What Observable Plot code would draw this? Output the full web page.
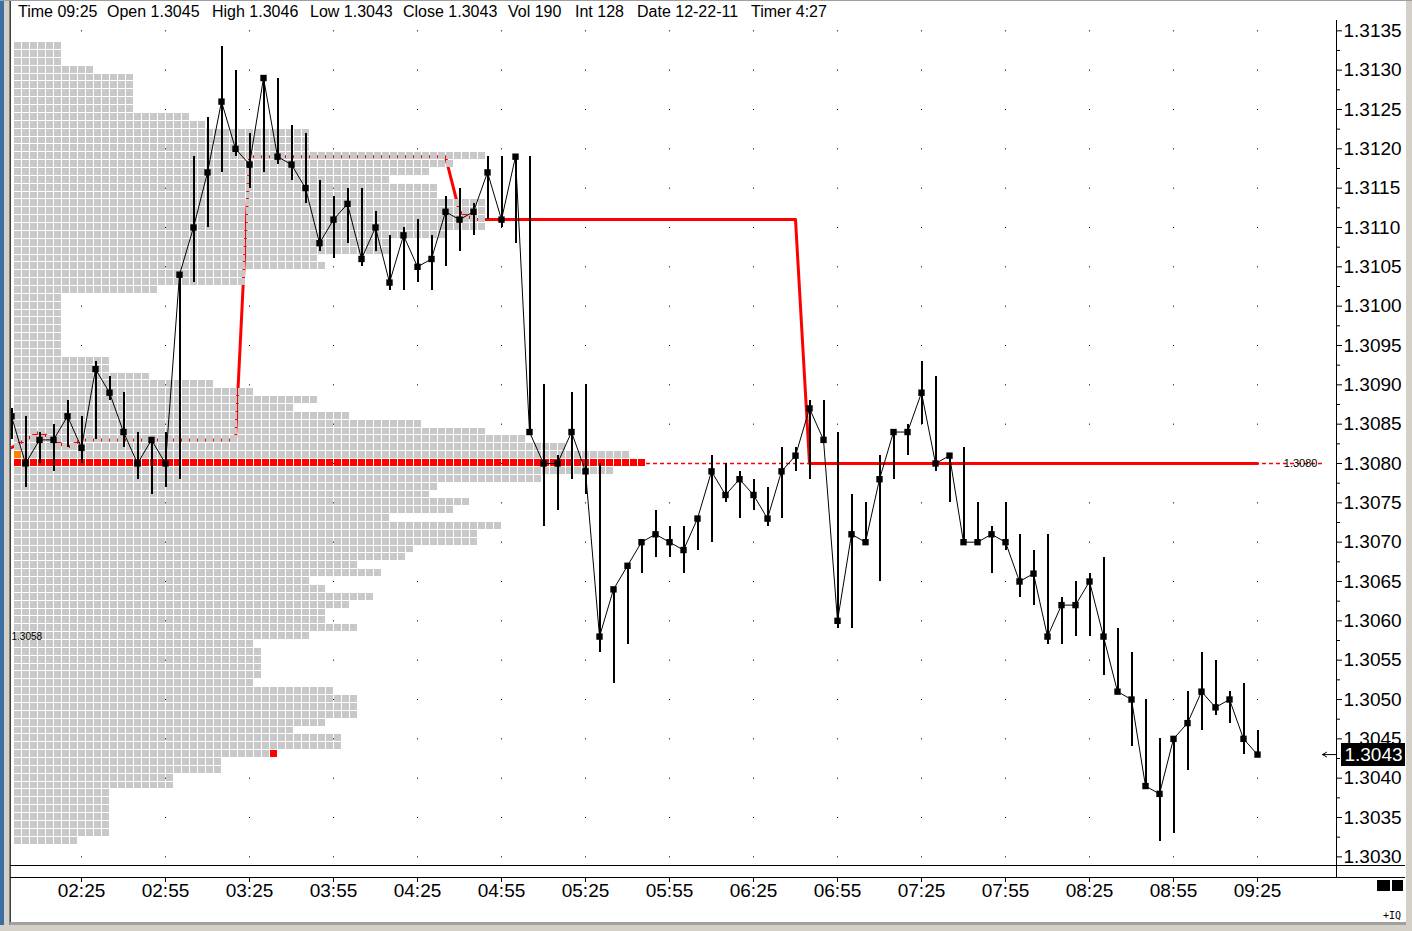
<!DOCTYPE html>
<html><head><meta charset="utf-8">
<script src="https://cdn.jsdelivr.net/npm/d3@7"></script>
<script src="https://cdn.jsdelivr.net/npm/@observablehq/plot@0.6"></script>
<style>
html,body{margin:0;padding:0;background:#fff;overflow:hidden;}
#wrap{position:relative;width:1412px;height:931px;overflow:hidden;font-family:"Liberation Sans",Arial,sans-serif;background:#fff;}
#chart{position:absolute;left:0;top:0;}
.hdr{position:absolute;top:3px;font-size:16px;line-height:18px;color:#000;white-space:nowrap;}
.blk{position:absolute;}
</style></head><body><div id="wrap"><div id="chart"></div></div>
<script>
// ---------------- data ----------------
const header = [["Time","09:25"],["Open","1.3045"],["High","1.3046"],["Low","1.3043"],["Close","1.3043"],["Vol","190"],["Int","128"],["Date","12-22-11"],["Timer","4:27"]];
const firstBarTime = "02:00";
const barMinutes = 5;
const closes = [1.3086,1.3080,1.3083,1.3083,1.3086,1.3082,1.3092,1.3089,1.3084,1.3080,1.3083,1.3080,
 1.3104,1.3110,1.3117,1.3126,1.3120,1.3118,1.3129,1.3119,1.3118,1.3115,1.3108,1.3111,
 1.3113,1.3106,1.3110,1.3103,1.3109,1.3105,1.3106,1.3112,1.3111,1.3112,1.3117,1.3111,
 1.3119,1.3084,1.3080,1.3080,1.3084,1.3079,1.3058,1.3064,1.3067,1.3070,1.3071,1.3070,
 1.3069,1.3073,1.3079,1.3076,1.3078,1.3076,1.3073,1.3079,1.3081,1.3087,1.3083,1.3060,
 1.3071,1.3070,1.3078,1.3084,1.3084,1.3089,1.3080,1.3081,1.3070,1.3070,1.3071,1.3070,
 1.3065,1.3066,1.3058,1.3062,1.3062,1.3065,1.3058,1.3051,1.3050,1.3039,1.3038,1.3045,
 1.3047,1.3051,1.3049,1.3050,1.3045,1.3043];
const highs = [1.3087,1.3086,1.3084,1.3085,1.3088,1.3086,1.3093,1.3091,1.3089,1.3084,1.3083,1.3084,
 1.3104,1.3119,1.3124,1.3133,1.3130,1.3122,1.3129,1.3129,1.3123,1.3122,1.3116,1.3114,
 1.3115,1.3115,1.3112,1.3109,1.3110,1.3111,1.3109,1.3114,1.3115,1.3113,1.3119,1.3119,
 1.3119,1.3119,1.3090,1.3081,1.3089,1.3090,1.3080,1.3064,1.3067,1.3070,1.3074,1.3072,
 1.3072,1.3073,1.3081,1.3080,1.3079,1.3078,1.3077,1.3082,1.3082,1.3088,1.3088,1.3084,
 1.3076,1.3075,1.3081,1.3084,1.3085,1.3093,1.3091,1.3081,1.3082,1.3075,1.3072,1.3075,
 1.3071,1.3069,1.3071,1.3063,1.3065,1.3066,1.3068,1.3059,1.3056,1.3050,1.3045,1.3045,
 1.3051,1.3056,1.3055,1.3051,1.3052,1.3046];
const lows = [1.3083,1.3077,1.3080,1.3079,1.3082,1.3080,1.3083,1.3088,1.3082,1.3078,1.3076,1.3077,
 1.3078,1.3103,1.3110,1.3117,1.3119,1.3115,1.3117,1.3118,1.3116,1.3113,1.3107,1.3106,
 1.3108,1.3105,1.3107,1.3102,1.3102,1.3103,1.3102,1.3105,1.3107,1.3109,1.3111,1.3110,
 1.3108,1.3084,1.3072,1.3074,1.3078,1.3076,1.3056,1.3052,1.3057,1.3066,1.3068,1.3068,
 1.3066,1.3069,1.3070,1.3075,1.3073,1.3074,1.3072,1.3073,1.3079,1.3078,1.3083,1.3059,
 1.3059,1.3070,1.3065,1.3078,1.3081,1.3085,1.3079,1.3075,1.3070,1.3070,1.3066,1.3069,
 1.3063,1.3062,1.3057,1.3057,1.3058,1.3058,1.3053,1.3051,1.3044,1.3039,1.3032,1.3033,
 1.3041,1.3046,1.3048,1.3047,1.3043,1.3043];
// developing point of control per bar
const devPOC = [1.3082,1.3083,1.3084,1.3083,1.3082,1.3083,1.3083,1.3083,1.3083,1.3083,1.3083,1.3083,
 1.3083,1.3083,1.3083,1.3083,1.3083,1.3119,1.3119,1.3119,1.3119,1.3119,1.3119,1.3119,
 1.3119,1.3119,1.3119,1.3119,1.3119,1.3119,1.3119,1.3119,1.3112,1.3111,1.3111,1.3111,
 1.3111,1.3111,1.3111,1.3111,1.3111,1.3111,1.3111,1.3111,1.3111,1.3111,1.3111,1.3111,
 1.3111,1.3111,1.3111,1.3111,1.3111,1.3111,1.3111,1.3111,1.3111,1.3080,1.3080,1.3080,
 1.3080,1.3080,1.3080,1.3080,1.3080,1.3080,1.3080,1.3080,1.3080,1.3080,1.3080,1.3080,
 1.3080,1.3080,1.3080,1.3080,1.3080,1.3080,1.3080,1.3080,1.3080,1.3080,1.3080,1.3080,
 1.3080,1.3080,1.3080,1.3080,1.3080,1.3080];
// composite TPO profile: box counts per 0.0001 price level, from the top level down
const profileTop = 1.3133;
const profileCounts = [6,6,6,10,15,15,15,15,15,22,24,37,37,37,59,55,52,47,53,53,59,59,59,59,54,47,47,38,39,29,29,18,
 6,6,6,6,6,6,6,6,12,12,17,25,30,38,35,42,51,59,64,69,77,79,75,66,53,52,57,55,47,61,58,58,50,49,43,46,37,39,45,
 42,39,39,43,37,30,31,31,31,31,30,40,43,43,43,39,35,41,41,32,26,26,20,20,12,12,12,12,12,12,8];
const pocPrice = 1.3080;
const openCell = {price: 1.3081, box: 0};
const lastCell = {price: 1.3043, box: 32};
const sideLabel = 1.3058;
const priceTicks = [1.3030,1.3035,1.3040,1.3045,1.3050,1.3055,1.3060,1.3065,1.3070,1.3075,1.3080,
 1.3085,1.3090,1.3095,1.3100,1.3105,1.3110,1.3115,1.3120,1.3125,1.3130,1.3135];
const timeTicks = ["02:25","02:55","03:25","03:55","04:25","04:55","05:25","05:55","06:25","06:55","07:25","07:55","08:25","08:55","09:25"];

// ---------------- layout constants ----------------
const W = 1412, H = 931;
const PX_PER_MIN = 2.8;          // 5-minute bar = 14 px
const PX_PER_PRICE = 78670;      // 0.0001 = 7.867 px
const tAt = px => 120 + (px - 11) / PX_PER_MIN;
const pAt = py => 1.3080 + (463 - py) / PX_PER_PRICE;
const XMIN = tAt(10), XMAX = tAt(1336);
const YMIN = pAt(865), YMAX = pAt(20);
const BOX = 8 / PX_PER_MIN, X0 = tAt(14), ROW = 0.0001;

const toMin = s => { const [h, m] = s.split(":").map(Number); return h * 60 + m; };
const fmt = m => String(Math.floor(m / 60)).padStart(2, "0") + ":" + String(m % 60).padStart(2, "0");
const r4 = v => Math.round(v * 1e4) / 1e4;

const t0 = toMin(firstBarTime);
const bars = closes.map((c, i) => ({t: t0 + i * barMinutes, close: c, high: highs[i], low: lows[i], poc: devPOC[i]}));
const last = bars[bars.length - 1];
const tickMins = timeTicks.map(toMin);
const minorTicks = priceTicks.slice(0, -1).map(p => p + 0.00025);
const grid = tickMins.flatMap(t => priceTicks.map(p => ({t, p})));

const cells = [];
profileCounts.forEach((n, i) => {
  const price = r4(profileTop - i * ROW);
  for (let j = 0; j < n; j++) cells.push({price, box: j});
});
const cellX1 = d => X0 + d.box * BOX, cellX2 = d => X0 + (d.box + 1) * BOX;
const cellY1 = d => d.price - ROW / 2, cellY2 = d => d.price + ROW / 2;
const pocCount = profileCounts[Math.round((profileTop - pocPrice) / ROW)];
const crisp = {shapeRendering: "crispEdges"};

const chart = Plot.plot({
  width: W, height: H,
  marginLeft: 10, marginRight: W - 1336, marginTop: 20, marginBottom: H - 865,
  x: {domain: [XMIN, XMAX], axis: null},
  y: {domain: [YMIN, YMAX], axis: null},
  style: {fontFamily: "'Liberation Sans', Arial, sans-serif", background: "transparent", overflow: "visible", color: "#000"},
  marks: [
    Plot.dot(grid, {x: "t", y: "p", symbol: "square", r: 0.6, fill: "#000", stroke: null}),
    Plot.ruleY([pocPrice], {x1: X0 + pocCount * BOX, x2: last.t + 23.2, stroke: "#ff0000", strokeWidth: 1.4, strokeDasharray: "4,3"}),
    Plot.line(bars, {x: "t", y: "poc", stroke: "#ff0000", strokeWidth: 3, clip: true}),
    Plot.rect(cells.filter(d => d.price !== pocPrice), {x1: cellX1, x2: cellX2, y1: cellY1, y2: cellY2, fill: "#c8c8c8", insetRight: 1, insetBottom: 1, ...crisp}),
    Plot.rect(cells.filter(d => d.price === pocPrice), {x1: cellX1, x2: cellX2, y1: cellY1, y2: cellY2, fill: "#ff0000", insetRight: 1, insetBottom: 1, ...crisp}),
    Plot.rect([openCell], {x1: cellX1, x2: cellX2, y1: cellY1, y2: cellY2, fill: "#ff8000", insetRight: 1, insetBottom: 1, ...crisp}),
    Plot.rect([lastCell], {x1: cellX1, x2: cellX2, y1: cellY1, y2: cellY2, fill: "#ff0000", insetRight: 1, insetBottom: 1, ...crisp}),
    Plot.ruleX(bars, {x: "t", y1: "low", y2: "high", stroke: "#000", strokeWidth: 2, clip: true, ...crisp}),
    Plot.line(bars, {x: "t", y: "close", stroke: "#000", strokeWidth: 1, clip: true}),
    Plot.dot(bars, {x: "t", y: "close", symbol: "square", r: 3.6, fill: "#000", stroke: null, clip: true}),
    Plot.text([pocPrice], {x: last.t + 15.4, y: d => d, text: d => d.toFixed(4), fontSize: 11, fill: "#000"}),
    Plot.text([sideLabel], {y: d => d, frameAnchor: "left", dx: 1, textAnchor: "start", text: d => d.toFixed(4), fontSize: 10, fill: "#000"}),
    Plot.ruleX([XMAX], {y1: pAt(878), y2: YMAX, stroke: "#000", strokeWidth: 1, ...crisp}),
    Plot.axisY(priceTicks, {anchor: "right", tickSize: 5, tickPadding: 2, fontSize: 19, tickFormat: d => d.toFixed(4), label: null}),
    Plot.axisY(minorTicks, {anchor: "right", tickSize: 3, tickFormat: () => "", label: null}),
    Plot.axisX(tickMins, {anchor: "bottom", tickSize: 4, tickPadding: 1, dy: 13, fontSize: 19, tickFormat: fmt, label: null}),
    Plot.rect([last], {x1: tAt(1341), x2: tAt(1405), y1: d => d.close - 11.5 / PX_PER_PRICE, y2: d => d.close + 11.5 / PX_PER_PRICE, fill: "#000", ...crisp}),
    Plot.text([last], {x: tAt(1373), y: "close", text: d => d.close.toFixed(4), fill: "#fff", fontSize: 19}),
    Plot.arrow([last], {x1: tAt(1336), x2: tAt(1322), y1: "close", y2: "close", stroke: "#000", strokeWidth: 1, headLength: 7})
  ]
});
document.getElementById("chart").appendChild(chart);

// ---------------- window chrome ----------------
const root = document.getElementById("wrap");
const add = (css, html) => { const d = document.createElement("div"); d.className = "blk"; d.style.cssText = css; if (html) d.innerHTML = html; root.appendChild(d); return d; };
add("left:0;top:0;width:4px;height:931px;background:#3a6ea5;");
add("left:4px;top:0;width:5px;height:931px;background:#d4d0c8;");
add("left:9px;top:0;width:1px;height:925px;background:#808080;");
add("left:10px;top:0;width:1px;height:925px;background:#404040;");
add("left:1405px;top:0;width:1px;height:925px;background:#ffffff;");
add("left:1406px;top:0;width:6px;height:931px;background:#d4d0c8;");
add("left:0;top:0;width:1412px;height:1px;background:#a0a0a0;");
add("left:10px;top:922px;width:1396px;height:3px;background:#a0a0a0;");
add("left:0;top:925px;width:1412px;height:6px;background:#d4d0c8;");
add("left:10px;top:865px;width:1395px;height:1px;background:#000;");
add("left:10px;top:877px;width:1395px;height:1px;background:#000;");
add("left:1377px;top:880px;width:13px;height:11px;background:#000;");
add("left:1392px;top:880px;width:11px;height:11px;background:#000;");
add("left:1383px;top:910px;font-size:10px;font-family:'DejaVu Sans Mono',monospace;color:#000;", "+IQ");
const hdrX = [18, 107, 212, 310, 403, 508, 575, 637, 751];
header.forEach(([k, v], i) => {
  const s = document.createElement("div");
  s.className = "hdr"; s.style.left = hdrX[i] + "px"; s.textContent = k + " " + v;
  root.appendChild(s);
});
</script></body></html>
